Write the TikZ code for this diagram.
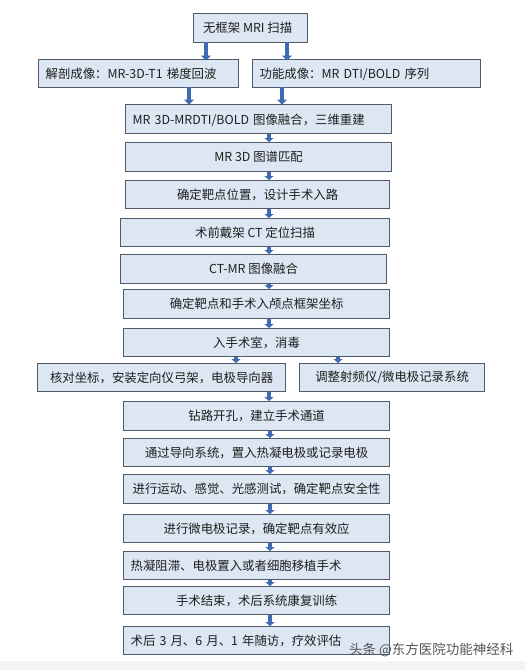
\documentclass[tikz,border=0pt]{standalone}
\usepackage{fontspec}
\setmainfont{Noto Sans CJK SC}
\usetikzlibrary{arrows.meta}
\definecolor{boxfill}{RGB}{221,231,243}
\definecolor{boxline}{RGB}{80,90,104}
\definecolor{arrowblue}{RGB}{63,107,181}
\definecolor{txt}{RGB}{30,30,30}
\definecolor{strip}{RGB}{244,244,244}
\definecolor{wm}{RGB}{85,85,85}
\tikzset{
  flowbox/.style={draw=boxline, line width=1.2pt, fill=boxfill, text=txt,
    font=\fontsize{12.4}{14}\selectfont, inner sep=0pt, anchor=north west},
  leftbox/.style={flowbox, align=left, inner xsep=7pt, text depth=0pt},
  bigarrow/.style={draw=arrowblue, line width=4pt, -{Triangle[width=10pt,length=5pt]}},
  smallarrow/.style={draw=arrowblue, line width=3.5pt, -{Triangle[width=9pt,length=4pt]}},
}
\begin{document}
\begin{tikzpicture}[x=1pt,y=-1pt]
\useasboundingbox (0,0) rectangle (525,670);
\fill[white] (0,0) rectangle (525,670);
\fill[strip] (0,661) rectangle (525,670);
% boxes
\node[flowbox, minimum width=114pt, minimum height=29pt] (b1) at (193,13) {无框架 MRI 扫描\hspace*{6pt}};
\node[leftbox, minimum width=200pt, minimum height=28pt, text width=186pt] (b2l) at (38,59) {解剖成像：MR-3D-T1 梯度回波};
\node[leftbox, minimum width=228pt, minimum height=28pt, text width=214pt] (b2r) at (252,59) {功能成像：MR DTI/BOLD 序列};
\node[leftbox, minimum width=266pt, minimum height=29pt, text width=252pt] (b3) at (125,104) {MR 3D-MRDTI/BOLD 图像融合，三维重建};
\node[flowbox, minimum width=266pt, minimum height=29pt] (b4) at (125,142) {MR 3D 图谱匹配};
\node[flowbox, minimum width=264pt, minimum height=28pt] (b5) at (125,180) {确定靶点位置，设计手术入路};
\node[flowbox, minimum width=269pt, minimum height=28pt] (b6) at (120,218) {术前戴架 CT 定位扫描};
\node[flowbox, minimum width=266pt, minimum height=29pt] (b7) at (120,254) {CT-MR 图像融合};
\node[flowbox, minimum width=266pt, minimum height=29pt] (b8) at (123,289) {确定靶点和手术入颅点框架坐标};
\node[flowbox, minimum width=266pt, minimum height=28pt] (b9) at (123,328) {入手术室，消毒};
\node[flowbox, minimum width=248pt, minimum height=28pt] (b10l) at (37,363) {核对坐标，安装定向仪弓架，电极导向器};
\node[flowbox, minimum width=185pt, minimum height=28pt] (b10r) at (299,363) {调整射频仪/微电极记录系统};
\node[flowbox, minimum width=266pt, minimum height=29pt] (b11) at (123,401) {钻路开孔，建立手术通道};
\node[flowbox, minimum width=266pt, minimum height=28pt] (b12) at (123,438) {通过导向系统，置入热凝电极或记录电极};
\node[flowbox, minimum width=266pt, minimum height=29pt] (b13) at (123,474) {进行运动、感觉、光感测试，确定靶点安全性};
\node[flowbox, minimum width=266pt, minimum height=28pt] (b14) at (123,514) {进行微电极记录，确定靶点有效应};
\node[leftbox, minimum width=266pt, minimum height=28pt, text width=252pt] (b15) at (123,551) {热凝阻滞、电极置入或者细胞移植手术};
\node[flowbox, minimum width=266pt, minimum height=28pt] (b16) at (123,586) {手术结束，术后系统康复训练};
\node[leftbox, minimum width=266pt, minimum height=28pt, text width=252pt] (b17) at (123,626) {术后 3 月、6 月、1 年随访，疗效评估};
% watermark
\node[anchor=west, text=wm, font=\fontsize{13.5}{15}\selectfont, inner sep=0pt] (wm) at (349,650) {头条 @东方医院功能神经科};
% arrow columns
\coordinate (xa) at (206,0);
\coordinate (xb) at (287,0);
\coordinate (xc) at (189,0);
\coordinate (xd) at (282,0);
\coordinate (xm) at (269,0);
\coordinate (xe) at (236,0);
\coordinate (xf) at (338,0);
\coordinate (xn) at (270,0);
% arrows
\draw[bigarrow] ([yshift=1pt]b1.south -| xa) -- ([yshift=-1.5pt]b2l.north -| xa);
\draw[bigarrow] ([yshift=1pt]b1.south -| xb) -- ([yshift=-1.5pt]b2r.north -| xb);
\draw[bigarrow] ([yshift=1pt]b2l.south -| xc) -- ([yshift=-0.5pt]b3.north -| xc);
\draw[bigarrow] ([yshift=1pt]b2r.south -| xd) -- ([yshift=-0.5pt]b3.north -| xd);
\draw[smallarrow] (b3.south -| xm) -- (b4.north -| xm);
\draw[smallarrow] (b4.south -| xm) -- (b5.north -| xm);
\draw[smallarrow] (b5.south -| xm) -- (b6.north -| xm);
\draw[smallarrow] (b6.south -| xm) -- (b7.north -| xm);
\draw[smallarrow] (b7.south -| xm) -- (b8.north -| xm);
\draw[smallarrow] (b8.south -| xm) -- (b9.north -| xm);
\draw[smallarrow] (b9.south -| xe) -- (b10l.north -| xe);
\draw[smallarrow] (b9.south -| xf) -- (b10r.north -| xf);
\draw[smallarrow] (b10l.south -| xm) -- (b11.north -| xm);
\draw[smallarrow] (b11.south -| xn) -- (b12.north -| xn);
\draw[smallarrow] (b12.south -| xn) -- (b13.north -| xn);
\draw[smallarrow] (b13.south -| xn) -- (b14.north -| xn);
\draw[smallarrow] (b14.south -| xn) -- (b15.north -| xn);
\draw[smallarrow] (b15.south -| xn) -- (b16.north -| xn);
\draw[smallarrow] (b16.south -| xn) -- (b17.north -| xn);
\end{tikzpicture}
\end{document}
